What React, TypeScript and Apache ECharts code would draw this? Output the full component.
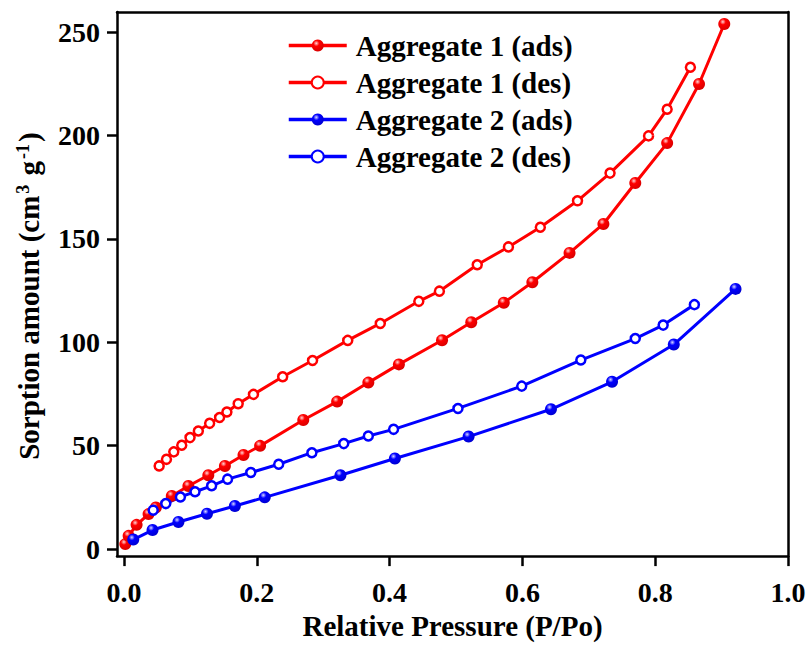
import React, { useEffect, useRef } from "react";
import * as echarts from "echarts";

const xTicks = [0, 0.2, 0.4, 0.6, 0.8, 1.0];
const yTicks = [0, 50, 100, 150, 200, 250];

const seriesNames = ["Aggregate 1 (ads)", "Aggregate 1 (des)", "Aggregate 2 (ads)", "Aggregate 2 (des)"];

const agg1AdsX = [0.002, 0.007, 0.019, 0.037, 0.048, 0.072, 0.097, 0.127, 0.152, 0.18, 0.205, 0.27, 0.321, 0.368, 0.414, 0.479, 0.523, 0.572, 0.615, 0.671, 0.722, 0.77, 0.818, 0.866, 0.904];
const agg1AdsY = [2.4, 6.4, 11.7, 16.9, 20.1, 25.7, 30.5, 35.7, 40.2, 45.5, 49.9, 62.4, 71.3, 80.5, 89.3, 101.0, 109.7, 119.1, 129.0, 143.2, 157.2, 177.0, 196.3, 224.9, 253.9];

const agg1DesX = [0.053, 0.064, 0.075, 0.087, 0.0995, 0.112, 0.129, 0.144, 0.155, 0.172, 0.195, 0.239, 0.284, 0.337, 0.386, 0.444, 0.475, 0.532, 0.579, 0.627, 0.683, 0.732, 0.79, 0.818, 0.853];
const agg1DesY = [40.2, 43.4, 47.0, 50.2, 53.9, 57.1, 60.8, 63.6, 66.3, 70.3, 74.8, 83.3, 91.2, 100.9, 109.1, 119.8, 124.7, 137.5, 146.1, 155.6, 168.4, 181.8, 199.8, 212.7, 233.0];

const agg2AdsX = [0.014, 0.043, 0.082, 0.125, 0.167, 0.212, 0.326, 0.408, 0.519, 0.643, 0.735, 0.828, 0.921];
const agg2AdsY = [4.6, 9.2, 13.1, 17.1, 20.8, 25.0, 35.7, 43.8, 54.4, 67.6, 80.9, 98.9, 125.8];

const agg2DesX = [0.044, 0.063, 0.085, 0.107, 0.132, 0.156, 0.191, 0.233, 0.283, 0.331, 0.368, 0.406, 0.503, 0.599, 0.688, 0.77, 0.812, 0.859];
const agg2DesY = [18.8, 22.0, 25.2, 27.7, 30.6, 33.8, 37.0, 41.0, 46.6, 51.0, 54.7, 57.9, 68.0, 78.8, 91.4, 101.8, 108.3, 118.2];

const FONT = '"Liberation Serif", "Times New Roman", serif';

function pairs(xs: number[], ys: number[]) {
  return xs.map((x, i) => [x, ys[i]]);
}

function sphere(light: string, mid: string, dark: string) {
  return {
    type: "radial",
    x: 0.38,
    y: 0.32,
    r: 0.7,
    colorStops: [
      { offset: 0, color: light },
      { offset: 0.35, color: mid },
      { offset: 1, color: dark },
    ],
  };
}

function filledSeries(name: string, data: number[][], color: string, light: string, dark: string) {
  return {
    name,
    type: "line",
    data,
    symbol: "circle",
    symbolSize: 12,
    lineStyle: { color, width: 3 },
    itemStyle: { color: sphere(light, color, dark) },
    emphasis: { disabled: true },
    z: 2,
  };
}

function openSeries(name: string, data: number[][], color: string) {
  return {
    name,
    type: "line",
    data,
    symbol: "circle",
    symbolSize: 9,
    lineStyle: { color, width: 3 },
    itemStyle: { color: "#ffffff", borderColor: color, borderWidth: 2.5 },
    emphasis: { disabled: true },
    z: 2,
  };
}

export default function App() {
  const ref = useRef<HTMLDivElement>(null);

  useEffect(() => {
    if (!ref.current) return;
    const chart = echarts.init(ref.current, undefined, { renderer: "svg" });
    const labelStyle = { fontFamily: FONT, fontWeight: "bold", fontSize: 28, color: "#000" };
    const option: any = {
      animation: false,
      backgroundColor: "#ffffff",
      grid: { left: 117, right: 21, top: 12, bottom: 88 },
      legend: {
        left: 282,
        top: 26,
        orient: "vertical",
        itemWidth: 58,
        itemHeight: 15,
        itemGap: 8,
        data: seriesNames,
        lineStyle: { width: 3.5 },
        textStyle: { fontFamily: FONT, fontWeight: "bold", fontSize: 29, color: "#000", lineHeight: 29, padding: [0, 0, 0, 4] },
      },
      xAxis: [
        {
          type: "value",
          min: -0.0105,
          max: 1.0,
          name: "Relative Pressure (P/Po)",
          nameLocation: "middle",
          nameGap: 54,
          nameTextStyle: { fontFamily: FONT, fontWeight: "bold", fontSize: 29, color: "#000" },
          axisLine: { show: true, onZero: false, lineStyle: { color: "#000", width: 2.5 } },
          axisTick: { show: true, inside: false, length: 10, lineStyle: { color: "#000", width: 2.5 }, customValues: xTicks },
          axisLabel: { ...labelStyle, margin: 22, customValues: xTicks, formatter: (v: number) => v.toFixed(1) },
          splitLine: { show: false },
        },
        {
          type: "value",
          position: "top",
          min: -0.0105,
          max: 1.0,
          axisLine: { show: true, onZero: false, lineStyle: { color: "#000", width: 2.5 } },
          axisTick: { show: false },
          axisLabel: { show: false },
          splitLine: { show: false },
        },
      ],
      yAxis: [
        {
          type: "value",
          min: -3.4,
          max: 259.7,
          name: "Sorption amount (cm{sup|3} g{sup|-1})",
          nameLocation: "middle",
          nameGap: 74,
          nameTextStyle: {
            fontFamily: FONT,
            fontWeight: "bold",
            fontSize: 29,
            color: "#000",
            padding: [0, 24, 0, 0],
            rich: {
              sup: { fontFamily: FONT, fontWeight: "bold", fontSize: 18, color: "#000", verticalAlign: "top", lineHeight: 10, padding: [0, 2, 0, 2] },
            },
          },
          axisLine: { show: true, onZero: false, lineStyle: { color: "#000", width: 2.5 } },
          axisTick: { show: true, inside: false, length: 10, lineStyle: { color: "#000", width: 2.5 }, customValues: yTicks },
          axisLabel: { ...labelStyle, margin: 17, customValues: yTicks, formatter: (v: number) => String(Math.round(v)) },
          splitLine: { show: false },
        },
        {
          type: "value",
          position: "right",
          min: -3.4,
          max: 259.7,
          axisLine: { show: true, onZero: false, lineStyle: { color: "#000", width: 2.5 } },
          axisTick: { show: false },
          axisLabel: { show: false },
          splitLine: { show: false },
        },
      ],
      series: [
        filledSeries(seriesNames[0], pairs(agg1AdsX, agg1AdsY), "#ff0000", "#ffd6d6", "#d80000"),
        openSeries(seriesNames[1], pairs(agg1DesX, agg1DesY), "#ff0000"),
        filledSeries(seriesNames[2], pairs(agg2AdsX, agg2AdsY), "#0000ff", "#d6d6ff", "#0000d0"),
        openSeries(seriesNames[3], pairs(agg2DesX, agg2DesY), "#0000ff"),
      ],
    };
    chart.setOption(option);
    return () => chart.dispose();
  }, []);

  return (
    <div
      ref={ref}
      style={{ position: "absolute", left: 0, top: 0, width: 809, height: 645 }}
    />
  );
}
